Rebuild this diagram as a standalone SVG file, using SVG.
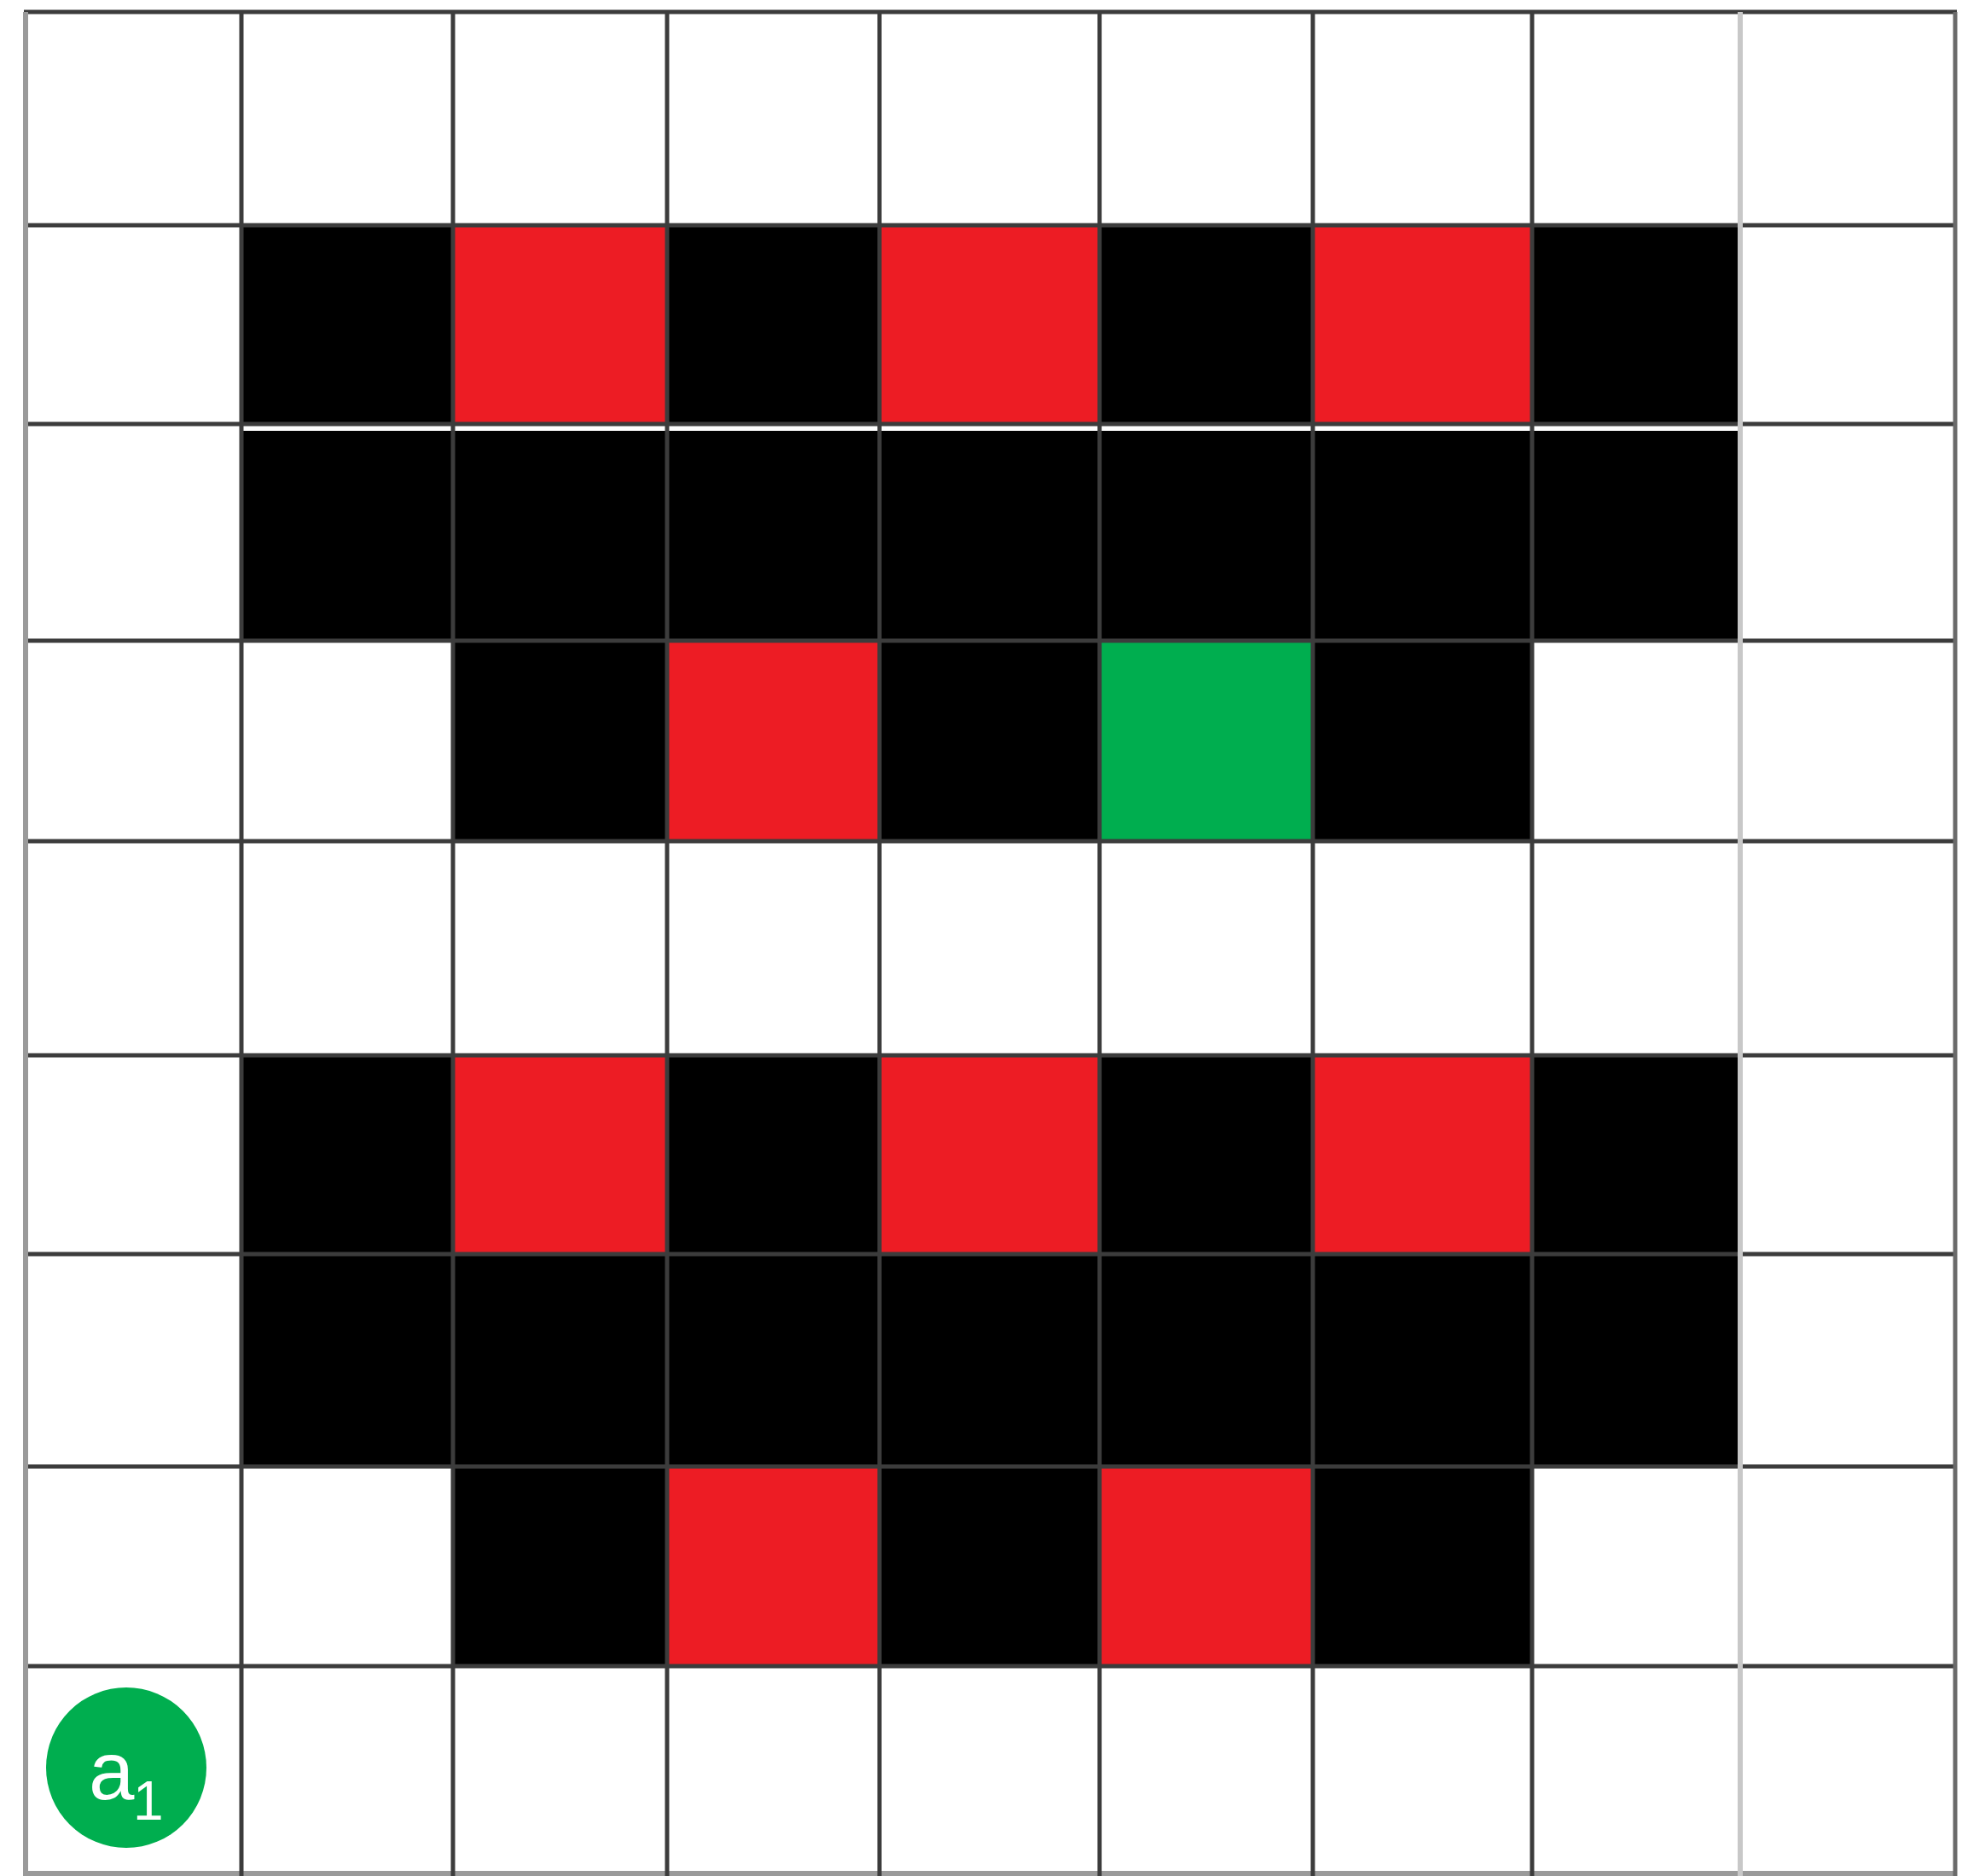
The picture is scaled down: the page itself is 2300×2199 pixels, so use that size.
<svg xmlns="http://www.w3.org/2000/svg" width="2300" height="2199" viewBox="0 0 2300 2199">
<style>
.b{fill:#000}
.r{fill:#ED1C24}
.g{fill:#00AE4F}
.ln{stroke:#3c3c3c;stroke-width:5;fill:none}
.lt{stroke:#9a9a9a;stroke-width:6;fill:none}
.lab{font-family:"Liberation Sans",Arial,sans-serif;fill:#fff}
</style>
<rect x="0" y="0" width="2300" height="2199" fill="#fff"/>
<g id="row1">
<rect class="b" x="283" y="264" width="248" height="233"/>
<rect class="r" x="531" y="264" width="251" height="233"/>
<rect class="b" x="782" y="264" width="249" height="233"/>
<rect class="r" x="1031" y="264" width="258" height="233"/>
<rect class="b" x="1289" y="264" width="250" height="233"/>
<rect class="r" x="1539" y="264" width="257" height="233"/>
<rect class="b" x="1796" y="264" width="244" height="233"/>
</g>
<g id="row2">
<rect class="b" x="283" y="505" width="1757" height="246"/>
</g>
<g id="row3">
<rect class="b" x="531" y="751" width="251" height="235"/>
<rect class="r" x="782" y="751" width="249" height="235"/>
<rect class="b" x="1031" y="751" width="258" height="235"/>
<rect class="g" x="1289" y="751" width="250" height="235"/>
<rect class="b" x="1539" y="751" width="257" height="235"/>
</g>
<g id="row5">
<rect class="b" x="283" y="1237" width="248" height="233"/>
<rect class="r" x="531" y="1237" width="251" height="233"/>
<rect class="b" x="782" y="1237" width="249" height="233"/>
<rect class="r" x="1031" y="1237" width="258" height="233"/>
<rect class="b" x="1289" y="1237" width="250" height="233"/>
<rect class="r" x="1539" y="1237" width="257" height="233"/>
<rect class="b" x="1796" y="1237" width="244" height="233"/>
</g>
<g id="row6">
<rect class="b" x="283" y="1470" width="1757" height="249"/>
</g>
<g id="row7">
<rect class="b" x="531" y="1719" width="251" height="234"/>
<rect class="r" x="782" y="1719" width="249" height="234"/>
<rect class="b" x="1031" y="1719" width="258" height="234"/>
<rect class="r" x="1289" y="1719" width="250" height="234"/>
<rect class="b" x="1539" y="1719" width="257" height="234"/>
</g>
<g id="grid">
<line class="ln" x1="28" y1="14" x2="2294" y2="14"/>
<line class="ln" x1="28" y1="264" x2="2294" y2="264"/>
<line class="ln" x1="28" y1="497" x2="2294" y2="497"/>
<line class="ln" x1="28" y1="751" x2="2294" y2="751"/>
<line class="ln" x1="28" y1="986" x2="2294" y2="986"/>
<line class="ln" x1="28" y1="1237" x2="2294" y2="1237"/>
<line class="ln" x1="28" y1="1470" x2="2294" y2="1470"/>
<line class="ln" x1="28" y1="1719" x2="2294" y2="1719"/>
<line class="ln" x1="28" y1="1953" x2="2294" y2="1953"/>
<line class="lt" x1="28" y1="2196" x2="2294" y2="2196"/>
<line class="lt" x1="30" y1="14" x2="30" y2="2199"/>
<line class="ln" x1="283" y1="14" x2="283" y2="2199"/>
<line class="ln" x1="531" y1="14" x2="531" y2="2199"/>
<line class="ln" x1="782" y1="14" x2="782" y2="2199"/>
<line class="ln" x1="1031" y1="14" x2="1031" y2="2199"/>
<line class="ln" x1="1289" y1="14" x2="1289" y2="2199"/>
<line class="ln" x1="1539" y1="14" x2="1539" y2="2199"/>
<line class="ln" x1="1796" y1="14" x2="1796" y2="2199"/>
<line class="lt" x1="2040" y1="14" x2="2040" y2="2199" style="stroke:#c8c8c8"/>
<line class="ln" x1="2292" y1="14" x2="2292" y2="2199" style="stroke:#6a6a6a"/>
</g>
<g id="label-a1">
<circle cx="148" cy="2072" r="94" fill="#00AE4F"/>
<text class="lab" x="104" y="2109" font-size="96">a</text>
<text class="lab" x="156" y="2133" font-size="64">1</text>
</g>
</svg>
